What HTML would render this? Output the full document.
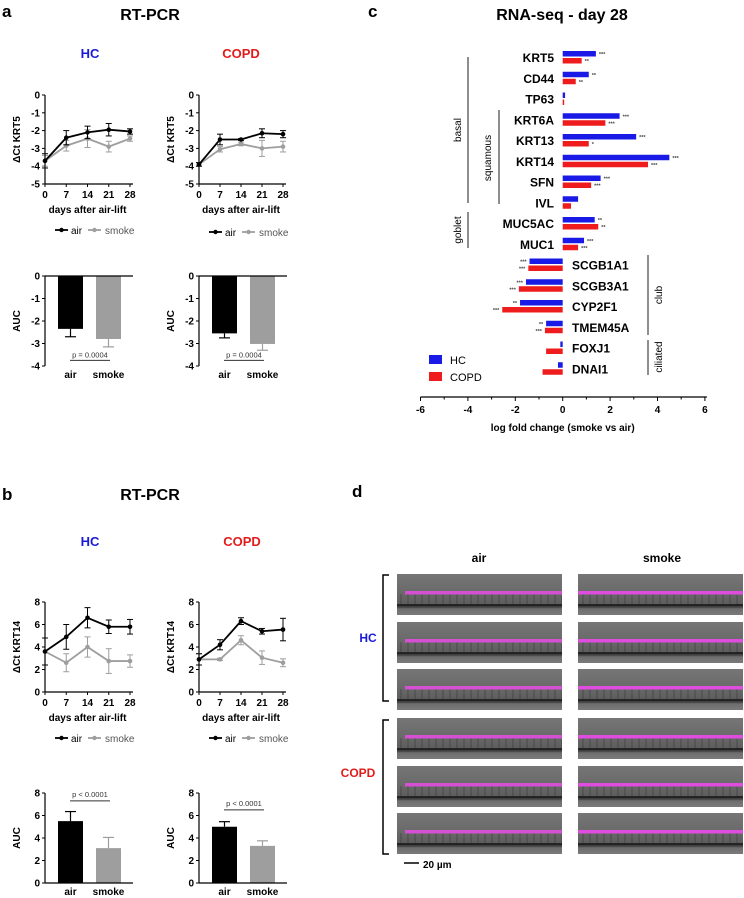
<!DOCTYPE html>
<html><head><meta charset="utf-8"><style>
body{margin:0;background:#fff}
svg{display:block;font-family:"Liberation Sans",Arial,sans-serif}
</style></head><body>
<svg id="fig" width="744" height="898" viewBox="0 0 744 898">
<g id="static">
<text x="2" y="17" font-size="17" font-weight="bold">a</text>
<text x="150" y="20" font-size="16" font-weight="bold" text-anchor="middle">RT-PCR</text>
<text x="90" y="58" font-size="13" font-weight="bold" fill="#1a1adc" text-anchor="middle">HC</text>
<text x="241" y="58" font-size="13" font-weight="bold" fill="#e21b1b" text-anchor="middle">COPD</text>
<text x="2" y="500" font-size="17" font-weight="bold">b</text>
<text x="150" y="500" font-size="16" font-weight="bold" text-anchor="middle">RT-PCR</text>
<text x="90" y="546" font-size="13" font-weight="bold" fill="#1a1adc" text-anchor="middle">HC</text>
<text x="242" y="546" font-size="13" font-weight="bold" fill="#e21b1b" text-anchor="middle">COPD</text>
<text x="368" y="17" font-size="17" font-weight="bold">c</text>
<text x="562" y="20" font-size="16" font-weight="bold" text-anchor="middle">RNA-seq - day 28</text>
<text x="352" y="497" font-size="17" font-weight="bold">d</text>
<text x="479" y="562" font-size="12" font-weight="bold" text-anchor="middle">air</text>
<text x="662" y="562" font-size="12" font-weight="bold" text-anchor="middle">smoke</text>
<path d="M389 575 H383 V701 H389" fill="none" stroke="#000" stroke-width="1.5"/>
<path d="M389 720 H383 V854 H389" fill="none" stroke="#000" stroke-width="1.5"/>
<text x="368" y="642" font-size="12" font-weight="bold" fill="#1a1adc" text-anchor="middle">HC</text>
<text x="358" y="777" font-size="12" font-weight="bold" fill="#e21b1b" text-anchor="middle">COPD</text>
<line x1="404" y1="863" x2="419" y2="863" stroke="#000" stroke-width="1.5"/>
<text x="423" y="868" font-size="10" font-weight="bold">20 µm</text>
</g>
<g id="dyn"></g>
</svg>
<script>
// ---------- data ----------
const days=[0,7,14,21,28];
const aHcAir=[-3.7,-2.4,-2.1,-1.95,-2.05], aHcAirErr=[0.4,0.4,0.35,0.35,0.15];
const aHcSmoke=[-3.7,-2.85,-2.45,-2.9,-2.45], aHcSmokeErr=[0.3,0.3,0.5,0.3,0.15];
const aCoAir=[-3.9,-2.5,-2.5,-2.15,-2.2], aCoAirErr=[0.1,0.3,0.05,0.25,0.2];
const aCoSmoke=[-3.9,-3.05,-2.75,-3.0,-2.9], aCoSmokeErr=[0.1,0.15,0.1,0.45,0.3];
const bHcAir=[3.6,4.9,6.6,5.8,5.8], bHcAirErr=[1.2,1.1,0.9,0.6,0.65];
const bHcSmoke=[3.6,2.6,4.0,2.75,2.75], bHcSmokeErr=[1.2,0.8,0.9,1.1,0.55];
const bCoAir=[2.9,4.2,6.3,5.4,5.55], bCoAirErr=[0.5,0.45,0.3,0.25,1.0];
const bCoSmoke=[2.9,2.9,4.6,3.05,2.6], bCoSmokeErr=[0.5,0.1,0.4,0.6,0.35];
const aucCats=["air","smoke"];
const aAucHc=[-2.35,-2.8], aAucHcErr=[0.35,0.35];
const aAucCo=[-2.55,-3.02], aAucCoErr=[0.2,0.28];
const bAucHc=[5.5,3.1], bAucHcErr=[0.85,0.95];
const bAucCo=[5.0,3.3], bAucCoErr=[0.45,0.45];
const genes=["KRT5","CD44","TP63","KRT6A","KRT13","KRT14","SFN","IVL","MUC5AC","MUC1","SCGB1A1","SCGB3A1","CYP2F1","TMEM45A","FOXJ1","DNAI1"];
const lfcHC=[1.4,1.1,0.1,2.4,3.1,4.5,1.6,0.65,1.35,0.9,-1.4,-1.55,-1.8,-0.7,-0.1,-0.2];
const lfcCOPD=[0.8,0.55,0.05,1.8,1.1,3.6,1.2,0.35,1.5,0.65,-1.45,-1.85,-2.55,-0.75,-0.7,-0.85];
const starsHC=["***","**","","***","***","***","***","","**","***","***","***","**","**","",""];
const starsCOPD=["**","**","","***","*","***","***","","**","***","***","***","***","***","",""];
const lfcTicks=[-6,-4,-2,0,2,4,6];

const NS="http://www.w3.org/2000/svg";
const root=document.getElementById('dyn');
function el(tag,attrs,parent,text){const e=document.createElementNS(NS,tag);for(const k in attrs)e.setAttribute(k,attrs[k]);if(text!==undefined)e.textContent=text;(parent||root).appendChild(e);return e;}

function lineChart(ox,x0,x1,yTop,yBot,ymin,ymax,step,ylab,air,airE,smk,smkE,xlabY,legY,id){
  const g=el('g',{});
  
  
  const X=d=>x0+(d/28)*(x1-x0), Y=v=>yBot-(v-ymin)/(ymax-ymin)*(yBot-yTop);
  el('line',{x1:ox,y1:yTop,x2:ox,y2:yBot,stroke:'#000','stroke-width':1.2},g);
  el('line',{x1:ox,y1:yBot,x2:x1+3,y2:yBot,stroke:'#000','stroke-width':1.2},g);
  for(let v=ymin;v<=ymax+1e-9;v+=step){
    el('line',{x1:ox-3,y1:Y(v),x2:ox,y2:Y(v),stroke:'#000'},g);
    el('text',{x:ox-5,y:Y(v)+3.5,'font-size':10,'font-weight':'bold','text-anchor':'end'},g,String(v));
  }
  days.forEach(d=>{el('line',{x1:X(d),y1:yBot,x2:X(d),y2:yBot+3,stroke:'#000'},g);
    el('text',{x:X(d),y:yBot+14,'font-size':10,'font-weight':'bold','text-anchor':'middle'},g,String(d));});
  const yl=el('text',{x:0,y:0,'font-size':10,'font-weight':'bold','text-anchor':'middle',transform:`translate(${ox-25},${(yTop+yBot)/2}) rotate(-90)`},g,ylab);
  
  
  el('text',{x:(ox+x1)/2,y:xlabY,'font-size':10,'font-weight':'bold','text-anchor':'middle'},g,'days after air-lift');
  [[smk,smkE,'#9e9e9e','smoke'],[air,airE,'#000','air']].forEach(([vals,errs,c,nm])=>{
    const s=el('polyline',{points:vals.map((v,i)=>X(days[i])+','+Y(v)).join(' '),fill:'none',stroke:c,'stroke-width':1.8},g);
    
    
    vals.forEach((v,i)=>{const x=X(days[i]);
      el('line',{x1:x,y1:Y(v-errs[i]),x2:x,y2:Y(v+errs[i]),stroke:c,'stroke-width':1},g);
      el('line',{x1:x-3,y1:Y(v+errs[i]),x2:x+3,y2:Y(v+errs[i]),stroke:c},g);
      el('line',{x1:x-3,y1:Y(v-errs[i]),x2:x+3,y2:Y(v-errs[i]),stroke:c},g);
      const p=el('circle',{cx:x,cy:Y(v),r:2.3,fill:c},g);
      
      });
  });
  const lx=ox+10;
  const le=el('g',{},g);
  
  
  el('line',{x1:lx,y1:legY,x2:lx+13,y2:legY,stroke:'#000','stroke-width':1.8},le);
  el('circle',{cx:lx+6.5,cy:legY,r:2.2,fill:'#000'},le);
  el('text',{x:lx+16,y:legY+4,'font-size':10},le,'air');
  el('line',{x1:lx+33,y1:legY,x2:lx+46,y2:legY,stroke:'#9e9e9e','stroke-width':1.8},le);
  el('circle',{cx:lx+39.5,cy:legY,r:2.2,fill:'#9e9e9e'},le);
  el('text',{x:lx+50,y:legY+4,'font-size':10,fill:'#555'},le,'smoke');
}
function barChart(ox,yTop,yBot,ymin,ymax,step,vals,errs,pVal,pY,pText,id){
  const g=el('g',{});
  
  
  const Y=v=>yTop+(ymax-v)/(ymax-ymin)*(yBot-yTop);
  const zero=Y(0);
  const bx=[ox+13,ox+51], cols=['#000','#9e9e9e'];
  vals.forEach((v,i)=>{
    const top=Math.min(Y(v),zero),h=Math.abs(Y(v)-zero);
    const e=v<0?Y(v-errs[i]):Y(v+errs[i]);
    el('line',{x1:bx[i]+12.5,y1:Y(v),x2:bx[i]+12.5,y2:e,stroke:cols[i],'stroke-width':1.2},g);
    el('line',{x1:bx[i]+7,y1:e,x2:bx[i]+18,y2:e,stroke:cols[i],'stroke-width':1.2},g);
    const r=el('rect',{x:bx[i],y:top,width:25,height:h,fill:cols[i]},g);
    
    
    el('text',{x:bx[i]+12.5,y:Math.max(yBot,zero)+12,'font-size':10,'font-weight':'bold','text-anchor':'middle'},g,aucCats[i]);
  });
  el('line',{x1:ox,y1:yTop,x2:ox,y2:yBot,stroke:'#000','stroke-width':1.2},g);
  el('line',{x1:ox,y1:zero,x2:ox+88,y2:zero,stroke:'#000','stroke-width':1.2},g);
  for(let v=ymin;v<=ymax+1e-9;v+=step){
    el('line',{x1:ox-3,y1:Y(v),x2:ox,y2:Y(v),stroke:'#000'},g);
    el('text',{x:ox-5,y:Y(v)+3.5,'font-size':10,'font-weight':'bold','text-anchor':'end'},g,String(v));
  }
  el('text',{x:0,y:0,'font-size':10,'font-weight':'bold','text-anchor':'middle',transform:`translate(${ox-25},${(yTop+yBot)/2}) rotate(-90)`},g,'AUC');
  el('line',{x1:bx[0]+12,y1:Y(pY),x2:bx[1]+14,y2:Y(pY),stroke:'#333'},g);
  el('text',{x:(bx[0]+bx[1])/2+13,y:Y(pY)+(pVal<0?-3:-4),'font-size':7.5,'text-anchor':'middle',fill:'#333'},g,pText);
}
lineChart(45,45,130,95,184,-5,0,1,'ΔCt KRT5',aHcAir,aHcAirErr,aHcSmoke,aHcSmokeErr,213,230,'a-hc');
lineChart(199,199,283,95,184,-5,0,1,'ΔCt KRT5',aCoAir,aCoAirErr,aCoSmoke,aCoSmokeErr,213,232,'a-copd');
barChart(45,276,366,-4,0,1,aAucHc,aAucHcErr,-1,-3.75,'p = 0.0004','a-hc');
barChart(199,276,366,-4,0,1,aAucCo,aAucCoErr,-1,-3.75,'p = 0.0004','a-copd');
lineChart(45,45,130,602,692,0,8,2,'ΔCt KRT14',bHcAir,bHcAirErr,bHcSmoke,bHcSmokeErr,721,738,'b-hc');
lineChart(199,199,283,602,692,0,8,2,'ΔCt KRT14',bCoAir,bCoAirErr,bCoSmoke,bCoSmokeErr,721,738,'b-copd');
barChart(45,793,883,0,8,2,bAucHc,bAucHcErr,1,7.3,'p < 0.0001','b-hc');
barChart(199,793,883,0,8,2,bAucCo,bAucCoErr,1,6.5,'p < 0.0001','b-copd');

// ---------- panel c ----------
(function(){
  const g=el('g',{});
  
  
  const X=v=>562.7+v*23.7, R=i=>57+i*20.75, axY=397;
  genes.forEach((gn,i)=>{
    const y=R(i);
    [[lfcHC[i],'#1a1ae6',y-6,starsHC[i]],[lfcCOPD[i],'#ee1c1c',y+1,starsCOPD[i]]].forEach(([v,c,yy,st],k)=>{
      const r=el('rect',{x:Math.min(X(0),X(v)),y:yy,width:Math.max(1.5,Math.abs(X(v)-X(0))),height:5.5,fill:c},g);
      
      
      if(st){const sx=v>=0?X(v)+3:X(v)-3;
        el('text',{x:sx,y:yy+5,'font-size':5.5,'font-weight':'bold','text-anchor':v>=0?'start':'end',fill:'#444'},g,st);}
    });
    const pos=lfcHC[i]>=0;
    el('text',{x:pos?554:572,y:y+5,'font-size':12,'font-weight':'bold','text-anchor':pos?'end':'start'},g,gn);
  });
  el('line',{x1:X(-6),y1:axY,x2:X(6)+2,y2:axY,stroke:'#000','stroke-width':1.3},g);
  for(let v=-6;v<=6;v++) el('line',{x1:X(v),y1:axY,x2:X(v),y2:axY+(v%2===0?4:2.5),stroke:'#000'},g);
  lfcTicks.forEach(t=>el('text',{x:X(t),y:axY+16,'font-size':10,'font-weight':'bold','text-anchor':'middle'},g,String(t)));
  el('text',{x:X(0),y:431,'font-size':10,'font-weight':'bold','text-anchor':'middle'},g,'log fold change (smoke vs air)');
  const br=[[468,57,203,'basal',461,130],[499,110,204,'squamous',491,158],[468,212,248,'goblet',461,230],[648,255,335,'club',662,295],[648,340,375,'ciliated',662,357]];
  br.forEach(([x,y1,y2,t,tx,ty])=>{
    el('line',{x1:x,y1:y1,x2:x,y2:y2,stroke:'#444','stroke-width':1.2},g);
    const tt=el('text',{x:0,y:0,'font-size':10,'text-anchor':'middle',transform:`translate(${tx},${ty}) rotate(-90)`},g,t);
    
    
  });
  const lg=el('g',{},g);
  
  
  el('rect',{x:429,y:355,width:13,height:9,fill:'#1a1ae6'},lg);
  el('text',{x:450,y:364,'font-size':11},lg,'HC');
  el('rect',{x:429,y:372,width:13,height:9,fill:'#ee1c1c'},lg);
  el('text',{x:450,y:381,'font-size':11},lg,'COPD');
})();

// ---------- panel d micrographs ----------
(function(){
  const cols=[397,578], rows=[574,622,669,718,766,813];
  const defs=el('defs',{});
  const lg=el('linearGradient',{id:'mic',x1:0,y1:0,x2:0,y2:1},defs);
  [['0','#767676'],['0.45','#6a6a6a'],['0.75','#5c5c5c'],['0.8','#3a3a3a'],['0.85','#6e6e6e'],['1','#7a7a7a']].forEach(([o,c])=>el('stop',{offset:o,'stop-color':c},lg));
  const pat=el('pattern',{id:'cells',width:7,height:12,patternUnits:'userSpaceOnUse'},defs);
  el('line',{x1:2,y1:0,x2:2,y2:12,stroke:'#2e2e2e','stroke-width':0.8},pat);
  rows.forEach((y,ri)=>cols.forEach((x,ci)=>{
    const g=el('g',{});
    
    
    el('rect',{x:x,y:y,width:165,height:41,fill:'url(#mic)'},g);
    el('rect',{x:x,y:y+20,width:165,height:11,fill:'url(#cells)',opacity:0.6},g);
    el('line',{x1:x,y1:y+31,x2:x+165,y2:y+31,stroke:'#151515','stroke-width':1.6},g);
    el('rect',{x:x+(ci?0:8),y:y+17,width:ci?165:157,height:3.5,fill:'#e64ce6',opacity:ci?0.95:0.85},g);
  }));
})();
</script>
</body></html>
